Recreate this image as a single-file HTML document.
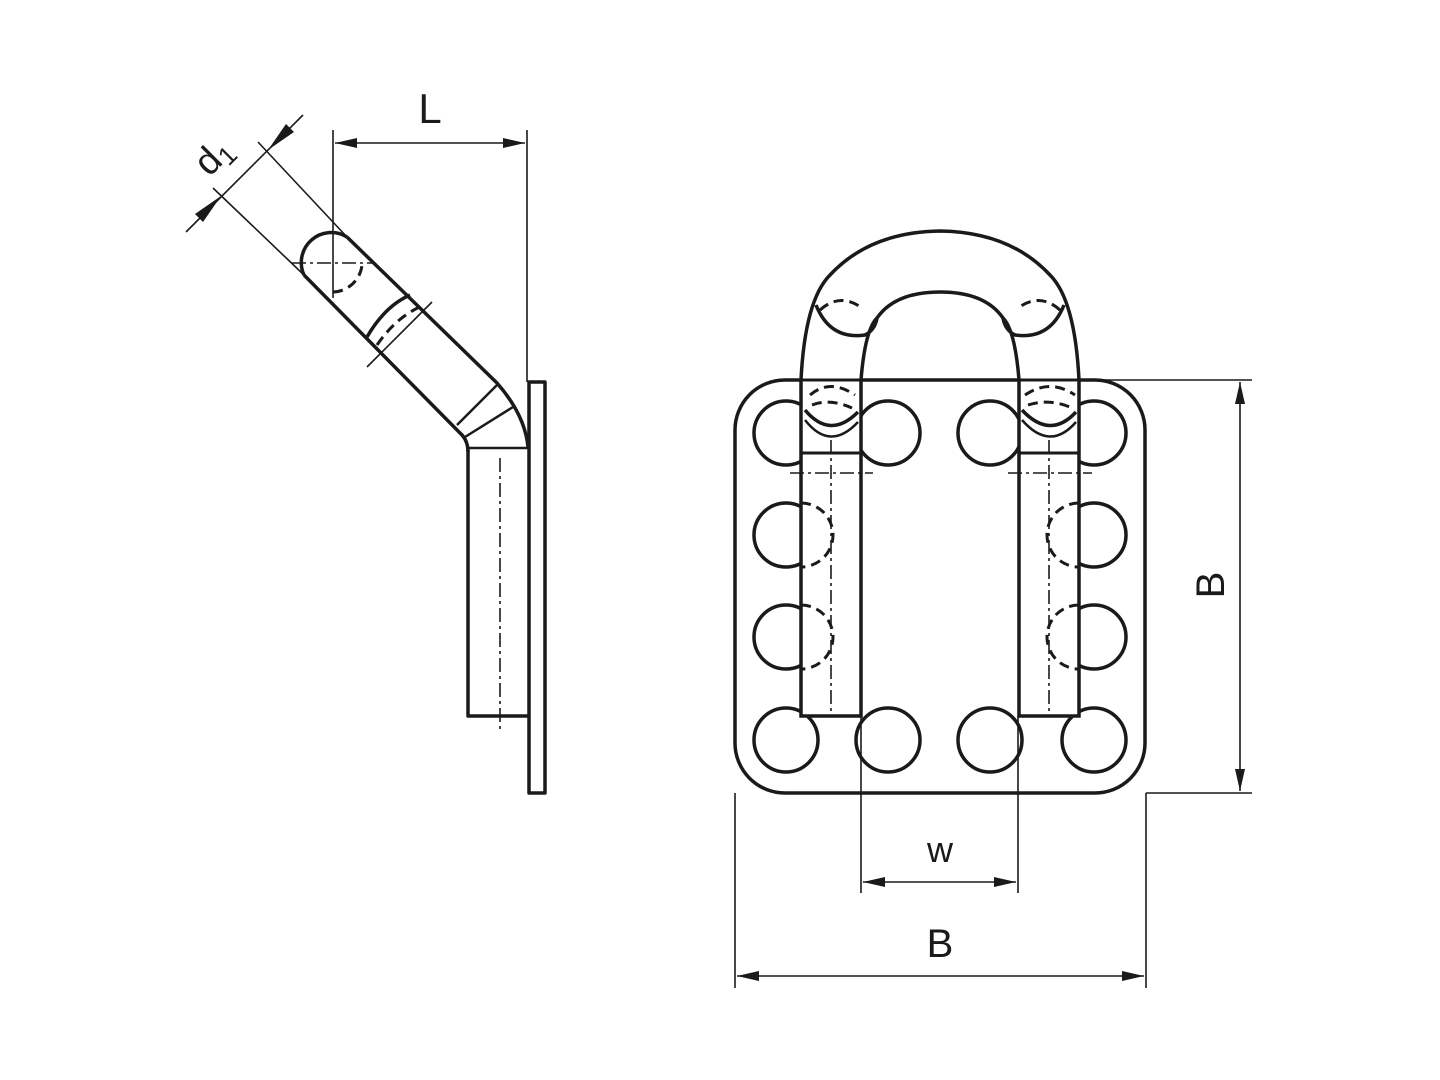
<!DOCTYPE html>
<html><head><meta charset="utf-8"><style>html,body{margin:0;padding:0;background:#fff}svg{display:block}</style></head>
<body>
<svg width="1440" height="1080" viewBox="0 0 1440 1080" xmlns="http://www.w3.org/2000/svg" font-family="Liberation Sans, sans-serif">
<defs>
<marker id="a" viewBox="0 0 22 10" refX="22" refY="5" markerWidth="22" markerHeight="10" markerUnits="userSpaceOnUse" orient="auto-start-reverse"><path d="M0,0 L22,5 L0,10 z" fill="#1a1a1a"/></marker>
</defs>
<g stroke="#1a1a1a" fill="none" stroke-width="3.5" stroke-linejoin="round">
<rect x="529" y="382" width="16" height="411"/>
<path d="M468,450 L468,716 L529,716"/>
<path d="M347,237 L497,383 Q525,415 528,447"/>
<path d="M304,275 L460,433 Q468,440 468,452"/>
<path d="M304,275 A30,30 0 0 1 347,237"/>
<path d="M467,448 L528,448" stroke-width="2.5"/>
<path d="M457,425 L497,385 M465,437 L513,407" stroke-width="2.5"/>
<path d="M367,337 Q385,306 410,295"/>
<path d="M377,345 Q397,316 424,305" stroke-dasharray="10,6" stroke-width="3"/>
<path d="M333,292 A30,30 0 0 0 362,265" stroke-dasharray="10,6" stroke-width="3"/>
</g>
<g stroke="#1a1a1a" fill="none" stroke-width="1.6">
<path d="M292,263 L375,263" stroke-dasharray="14,4,3,4"/>
<path d="M333,130 L333,298"/>
<path d="M527,130 L527,382"/>
<path d="M500,458 L500,730" stroke-dasharray="14,4,3,4"/>
<path d="M367,367 L432,302" />
<path d="M258,142 L347,237 M213,188 L304,275"/>
<path d="M186,232 L303,115"/>
<path d="M335,143 L525,143" marker-start="url(#a)" marker-end="url(#a)"/>
</g>
<path d="M268,150 l18,-26 l8,8 z M221,196 l-26,18 l8,8 z" fill="#1a1a1a"/>
<text x="430" y="123" font-size="42" text-anchor="middle" fill="#1a1a1a">L</text>
<text transform="translate(222,165) rotate(-45)" font-size="38" fill="#1a1a1a" text-anchor="middle">d<tspan font-size="26" dy="6">1</tspan></text>

<g stroke="#1a1a1a" fill="none" stroke-width="3.5">
<rect x="735" y="380" width="410" height="413" rx="50"/>
<g fill="#fff">
<circle cx="786" cy="433" r="32"/><circle cx="888" cy="433" r="32"/><circle cx="990" cy="433" r="32"/><circle cx="1094" cy="433" r="32"/>
<circle cx="786" cy="535" r="32"/><circle cx="1094" cy="535" r="32"/>
<circle cx="786" cy="637" r="32"/><circle cx="1094" cy="637" r="32"/>
<circle cx="786" cy="740" r="32"/><circle cx="888" cy="740" r="32"/><circle cx="990" cy="740" r="32"/><circle cx="1094" cy="740" r="32"/>
</g>
<path d="M801,716 L801,380 Q805,300 830,275 Q870,232 940,231 Q1010,232 1050,275 Q1075,300 1079,380 L1079,716 L1019,716 L1019,380 Q1015,330 1003,318 Q985,292 940,292 Q895,292 877,318 Q865,330 861,380 L861,716 Z" fill="#fff"/>
<path d="M801,380 L1079,380" stroke-width="3"/>
<path d="M816,305 Q830,340 865,335 Q875,330 877,318"/>
<path d="M1064,305 Q1050,340 1015,335 Q1005,330 1003,318"/>
<path d="M801,453 L861,453 M1019,453 L1079,453" stroke-width="3"/>
<path d="M805,410 Q830,440 858,412 M1022,410 Q1050,440 1076,412" />
<path d="M805,420 Q830,452 858,422 M1022,420 Q1050,452 1076,422" stroke-width="2.5"/>
<path d="M820,310 Q840,292 862,308 M1060,310 Q1040,292 1018,308" stroke-dasharray="10,6" stroke-width="3"/>
<path d="M810,395 Q830,378 855,395 M812,405 Q830,398 852,408 M1025,395 Q1050,378 1075,395 M1028,405 Q1050,398 1072,408" stroke-dasharray="10,6" stroke-width="3"/>
<path d="M801,503 A32,32 0 0 1 801,567 M801,605 A32,32 0 0 1 801,669 M1079,503 A32,32 0 0 0 1079,567 M1079,605 A32,32 0 0 0 1079,669" stroke-dasharray="10,6" stroke-width="3"/>
</g>
<g stroke="#1a1a1a" fill="none" stroke-width="1.6">
<path d="M790,473 L873,473 M1008,473 L1092,473 M831,440 L831,716 M1049,440 L1049,716" stroke-dasharray="14,4,3,4"/>
<path d="M985,380 L1252,380 M1146,793 L1252,793"/>
<path d="M1240,382 L1240,791" marker-start="url(#a)" marker-end="url(#a)"/>
<path d="M861,716 L861,893 M1018,716 L1018,893"/>
<path d="M863,882 L1016,882" marker-start="url(#a)" marker-end="url(#a)"/>
<path d="M735,793 L735,988 M1146,793 L1146,988"/>
<path d="M737,976 L1144,976" marker-start="url(#a)" marker-end="url(#a)"/>
</g>
<text transform="translate(1224,585) rotate(-90)" font-size="40" fill="#1a1a1a" text-anchor="middle">B</text>
<text x="940" y="862" font-size="36" fill="#1a1a1a" text-anchor="middle">w</text>
<text x="940" y="957" font-size="40" fill="#1a1a1a" text-anchor="middle">B</text>
</svg>
</body></html>
